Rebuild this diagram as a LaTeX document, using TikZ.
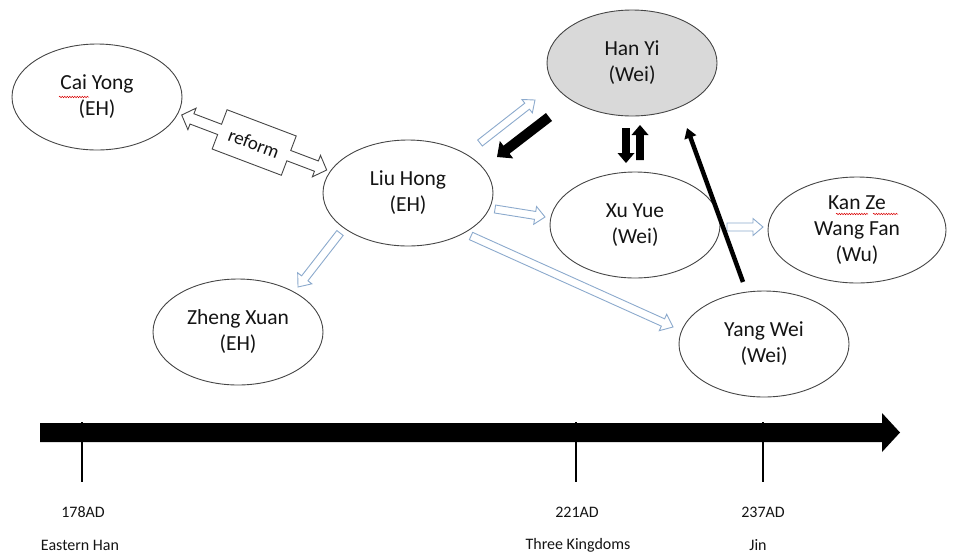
\documentclass[tikz,border=0pt]{standalone}
\usepackage{fontspec}
\setmainfont{Carlito}
\usetikzlibrary{shapes.geometric,arrows.meta,calc,decorations.pathmorphing}
\definecolor{lblue}{RGB}{140,170,205}
\definecolor{edgegray}{RGB}{70,70,70}
\definecolor{hanfill}{RGB}{217,217,217}
\definecolor{txt}{RGB}{20,20,20}

% block arrow: #1 start, #2 end, #3 shaft half width, #4 head half width, #5 head length, #6 style
\newcommand\blockarr[6]{%
  \path[#6] let \p1=(#1), \p2=(#2), \n1={atan2(\y2-\y1,\x2-\x1)}, \n2={veclen(\x2-\x1,\y2-\y1)} in
    [shift={(\p1)},rotate=\n1]
    (0pt,-#3) -- ({\n2*1pt-#5},-#3) -- ({\n2*1pt-#5},-#4) -- ({\n2*1pt},0pt)
    -- ({\n2*1pt-#5},#4) -- ({\n2*1pt-#5},#3) -- (0pt,#3) -- cycle;}

% double callout arrow with text
\newcommand\calloutarr[3]{%
  \path[draw=edgegray,fill=white,line width=0.9pt,line join=miter] let \p1=(#1), \p2=(#2),
    \n1={atan2(\y2-\y1,\x2-\x1)}, \n2={veclen(\x2-\x1,\y2-\y1)} in
    [shift={(\p1)},rotate=\n1]
    (0pt,0pt) -- (11pt,11.5pt) -- (11pt,5.5pt) -- ({\n2*0.5pt-37pt},5.5pt) -- ({\n2*0.5pt-37pt},21pt)
    -- ({\n2*0.5pt+37pt},21pt) -- ({\n2*0.5pt+37pt},5.5pt) -- ({\n2*1pt-11pt},5.5pt)
    -- ({\n2*1pt-11pt},11.5pt) -- ({\n2*1pt},0pt) -- ({\n2*1pt-11pt},-11.5pt) -- ({\n2*1pt-11pt},-5.5pt)
    -- ({\n2*0.5pt+37pt},-5.5pt) -- ({\n2*0.5pt+37pt},-21pt) -- ({\n2*0.5pt-37pt},-21pt)
    -- ({\n2*0.5pt-37pt},-5.5pt) -- (11pt,-5.5pt) -- (11pt,-11.5pt) -- cycle
    ({\n2*0.5pt},-1pt) node[rotate=\n1,text=txt,inner sep=0pt,font=\fontsize{19}{20}\selectfont] {#3};}

\tikzset{
  person/.style={ellipse,draw=edgegray,line width=0.9pt,fill=white,minimum width=170pt,
    minimum height=106pt,inner sep=0pt,align=center,text=txt,
    font=\fontsize{21.5}{26}\selectfont},
  hollow/.style={draw=lblue,fill=white,line width=0.9pt,line join=miter},
  solid/.style={fill=black},
  tick/.style={line width=1.8pt},
  tlabel/.style={text=txt,font=\fontsize{16}{18}\selectfont,inner sep=0pt},
  squig/.style={draw=red!85!black,line width=0.5pt,decorate,
    decoration={snake,amplitude=0.7pt,segment length=2.5pt}}
}

\begin{document}
\begin{tikzpicture}[x=1pt,y=-1pt]
\useasboundingbox (0,0) rectangle (957,555);

% people
\node[person] (cai)   at (97,97)   {Cai Yong\\(EH)};
\node[person,fill=hanfill] (han) at (632,63) {Han Yi\\(Wei)};
\node[person] (liu)   at (408,193) {Liu Hong\\(EH)};
\node[person] (xu)    at (635,225) {Xu Yue\\(Wei)};
\node[person,minimum width=178pt] (kan) at (857,230) {Kan Ze\\Wang Fan\\(Wu)};
\node[person] (zheng) at (238,332) {Zheng Xuan\\(EH)};
\node[person] (yang)  at (764,344) {Yang Wei\\(Wei)};

% spell-check squiggles
\draw[squig] (59,97) -- (89,97);
\draw[squig] (836,214) -- (868,214);
\draw[squig] (873,214) -- (898,214);

% connector end points
\coordinate (rfA) at (181.7,115);
\coordinate (rfB) at (326.7,170);
\coordinate (lhA) at (480,143);
\coordinate (lhB) at (535,100);
\coordinate (hlA) at (549,117);
\coordinate (hlB) at (497,157);
\coordinate (hxA) at (626,128);
\coordinate (hxB) at (626,163);
\coordinate (xhA) at (640,160);
\coordinate (xhB) at (640,125);
\coordinate (lxA) at (495,209);
\coordinate (lxB) at (545,217);
\coordinate (lyA) at (471,236);
\coordinate (lyB) at (673,327);
\coordinate (lzA) at (340,233);
\coordinate (lzB) at (298,287);
\coordinate (xkA) at (727,227);
\coordinate (xkB) at (763,227);
\coordinate (yhA) at (743,282);
\coordinate (yhB) at (687,128);

% reform
\calloutarr{rfA}{rfB}{reform}

% hollow (light blue) arrows
\blockarr{lhA}{lhB}{3.8pt}{8.5pt}{10pt}{hollow}
\blockarr{lxA}{lxB}{4pt}{9pt}{10pt}{hollow}
\blockarr{lyA}{lyB}{4pt}{9pt}{11pt}{hollow}
\blockarr{lzA}{lzB}{4pt}{9pt}{11pt}{hollow}
\blockarr{xkA}{xkB}{4pt}{8.5pt}{10pt}{hollow}

% solid black arrows
\blockarr{hlA}{hlB}{5pt}{11pt}{12pt}{solid}
\blockarr{hxA}{hxB}{3.8pt}{8.5pt}{10pt}{solid}
\blockarr{xhA}{xhB}{3.8pt}{8.5pt}{10pt}{solid}
\draw[line width=4.5pt,-{Triangle[width=12pt,length=10pt]}] (yhA) -- (yhB);

% timeline
\coordinate (tlA) at (40,432.5);
\coordinate (tlB) at (900,432.5);
\blockarr{tlA}{tlB}{9.5pt}{19.5pt}{18pt}{solid}

\coordinate (t1a) at (82,422);  \coordinate (t1b) at (82,482);
\coordinate (t2a) at (576,422); \coordinate (t2b) at (576,482);
\coordinate (t3a) at (763,422); \coordinate (t3b) at (763,482);
\draw[tick] (t1a) -- (t1b);
\draw[tick] (t2a) -- (t2b);
\draw[tick] (t3a) -- (t3b);

\node[tlabel] (d1) at (83,512) {178AD};
\node[tlabel] (e1) at (80,545) {Eastern Han};
\node[tlabel] (d2) at (577,512) {221AD};
\node[tlabel] (e2) at (578,545) {Three Kingdoms};
\node[tlabel] (d3) at (763,512) {237AD};
\node[tlabel] (e3) at (758,545) {Jin};
\end{tikzpicture}
\end{document}
